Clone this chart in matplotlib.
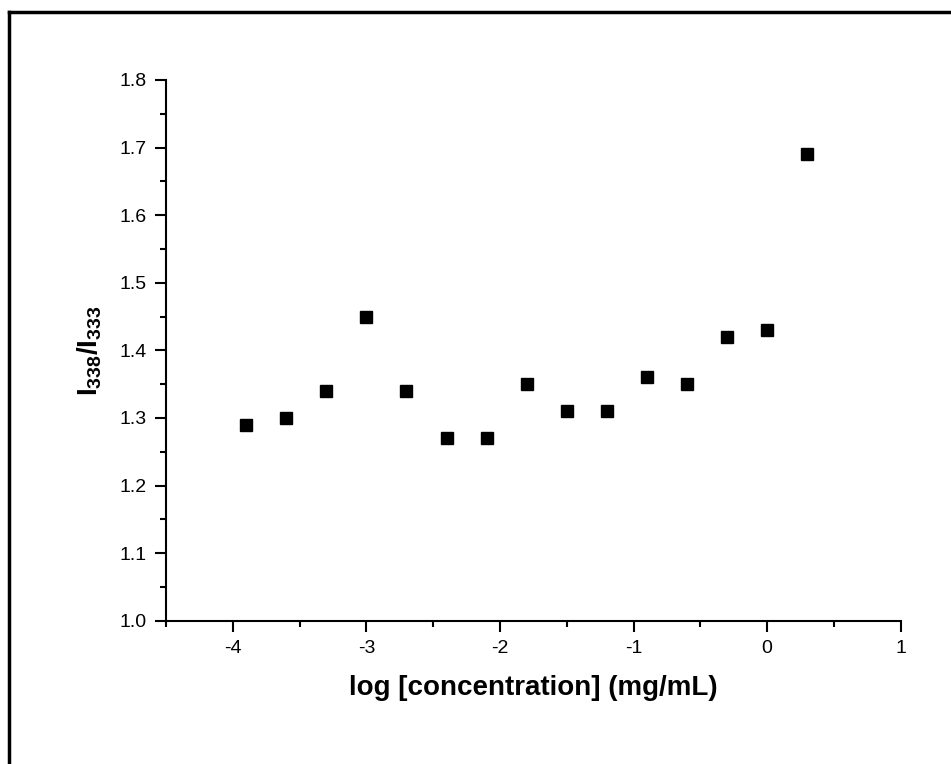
import matplotlib
matplotlib.use("Agg")
import matplotlib.pyplot as plt
from matplotlib.lines import Line2D
from matplotlib.ticker import MultipleLocator, FormatStrFormatter

plt.rcParams['font.family'] = ['Liberation Sans', 'DejaVu Sans']
plt.rcParams['mathtext.fontset'] = 'custom'
plt.rcParams['mathtext.rm'] = 'Liberation Sans'
plt.rcParams['mathtext.bf'] = 'Liberation Sans:bold'
plt.rcParams['axes.unicode_minus'] = False

# log concentration (mg/mL) and intensity ratio I338/I333
log_conc = [-3.9, -3.6, -3.3, -3.0, -2.7, -2.4, -2.1, -1.8, -1.5, -1.2, -0.9, -0.6, -0.3, 0.0, 0.3]
ratio = [1.29, 1.30, 1.34, 1.45, 1.34, 1.27, 1.27, 1.35, 1.31, 1.31, 1.36, 1.35, 1.42, 1.43, 1.69]

fig = plt.figure(figsize=(9.51, 7.64), dpi=100)
ax = fig.add_axes([166 / 951, 1 - 620.7 / 764, 734.7 / 951, 540.7 / 764])

ax.plot(log_conc, ratio, linestyle='none', marker='s', markersize=8, color='black')

ax.set_xlim(-4.5, 1)
ax.set_ylim(1.0, 1.8)
ax.xaxis.set_major_locator(MultipleLocator(1))
ax.xaxis.set_minor_locator(MultipleLocator(0.5))
ax.yaxis.set_major_locator(MultipleLocator(0.1))
ax.yaxis.set_minor_locator(MultipleLocator(0.05))
ax.yaxis.set_major_formatter(FormatStrFormatter('%.1f'))

for side in ['top', 'right']:
    ax.spines[side].set_visible(False)
for side in ['left', 'bottom']:
    ax.spines[side].set_linewidth(1.5)

ax.tick_params(which='major', direction='out', length=8, width=1.5, labelsize=14, pad=6)
ax.tick_params(which='minor', direction='out', length=4.3, width=1.5)

ax.set_xlabel('log [concentration] (mg/mL)', fontsize=20, fontweight='bold', labelpad=13)
ax.set_ylabel(r'$\mathbf{I_{338}/I_{333}}$', fontsize=20, labelpad=11)

# outer frame (cut off at right and bottom edges)
fig.add_artist(Line2D([8.5 / 951, 8.5 / 951], [1 - 11.5 / 764, -0.05], transform=fig.transFigure,
                      color='black', linewidth=2.5))
fig.add_artist(Line2D([8.5 / 951, 1.05], [1 - 11.5 / 764, 1 - 11.5 / 764], transform=fig.transFigure,
                      color='black', linewidth=2.5))

fig.savefig('out.png', dpi=100)
